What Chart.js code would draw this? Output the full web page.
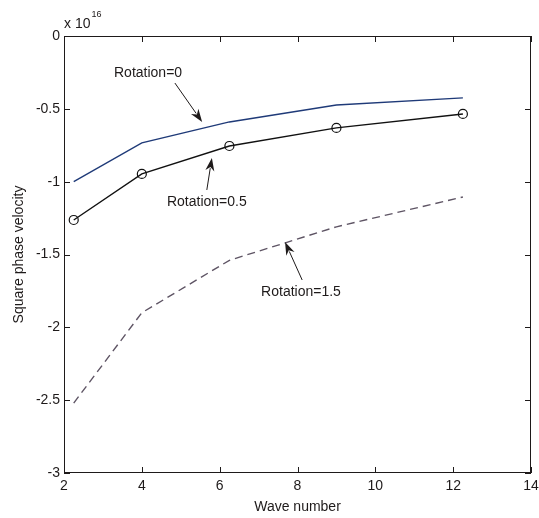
<!DOCTYPE html>
<html><head><meta charset="utf-8">
<script src="https://cdn.jsdelivr.net/npm/chart.js@4/dist/chart.umd.min.js"></script>
<style>html,body{margin:0;padding:0;background:#fff;}#wrap{width:539px;height:518px;}</style>
</head><body><div id="wrap"><canvas id="c" width="539" height="518"></canvas></div>
<script>
// ---- data (values in units of 1e16) ----
const waveNumbers = [2.25, 4, 6.25, 9, 12.25];
const rotation0   = [-1.00, -0.734, -0.59, -0.474, -0.425];
const rotation05  = [-1.263, -0.947, -0.755, -0.631, -0.535];
const rotation15  = [-2.52, -1.90, -1.54, -1.31, -1.105];
const seriesLabels = ['Rotation=0', 'Rotation=0.5', 'Rotation=1.5'];
const xTickValues = [2, 4, 6, 8, 10, 12, 14];
const yTickValues = [0, -0.5, -1, -1.5, -2, -2.5, -3];
const xTitle = 'Wave number';
const yTitle = 'Square phase velocity';
const exponentBase = 'x 10';
const exponentPower = '16';

// annotation anchors in data coordinates: text centre, arrow tail, arrow tip
const annotTextX = [4.16, 5.67, 8.09];
const annotTextY = [-0.254, -1.14, -1.757];
const arrowTailX = [4.85, 5.67, 8.12];
const arrowTailY = [-0.323, -1.057, -1.675];
const arrowTipX  = [5.55, 5.80, 7.68];
const arrowTipY  = [-0.59, -0.837, -1.414];

const FONT = '"Liberation Sans", Arial, Helvetica, sans-serif';
const INK = '#1e1a1a';

const toXY = (ys) => waveNumbers.map((x, i) => ({x, y: ys[i]}));

const framePlugin = {
  id: 'frame',
  afterDatasetsDraw(chart) {
    const {ctx, chartArea: a, scales: {x, y}} = chart;
    ctx.save();
    ctx.strokeStyle = INK;
    ctx.lineWidth = 1;
    ctx.strokeRect(a.left + 0.5, a.top + 0.5, a.right - a.left - 1, a.bottom - a.top - 1);
    const L = 6;
    ctx.beginPath();
    xTickValues.forEach(v => {
      const px = Math.round(x.getPixelForValue(v)) + 0.5;
      ctx.moveTo(px, a.bottom); ctx.lineTo(px, a.bottom - L);
      ctx.moveTo(px, a.top); ctx.lineTo(px, a.top + L);
    });
    yTickValues.forEach(v => {
      const py = Math.round(y.getPixelForValue(v)) + 0.5;
      ctx.moveTo(a.left, py); ctx.lineTo(a.left + L, py);
      ctx.moveTo(a.right, py); ctx.lineTo(a.right - L, py);
    });
    ctx.stroke();

    // exponent label
    ctx.fillStyle = INK;
    ctx.textBaseline = 'alphabetic';
    ctx.textAlign = 'left';
    ctx.font = '14px ' + FONT;
    ctx.fillText(exponentBase, a.left, a.top - 8);
    const w = ctx.measureText(exponentBase).width;
    ctx.font = '9px ' + FONT;
    ctx.fillText(exponentPower, a.left + w + 1, a.top - 19);

    // annotations
    ctx.font = '14px ' + FONT;
    ctx.textAlign = 'center';
    ctx.textBaseline = 'middle';
    seriesLabels.forEach((t, i) => {
      ctx.fillStyle = INK;
      ctx.fillText(t, x.getPixelForValue(annotTextX[i]), y.getPixelForValue(annotTextY[i]));
      const x0 = x.getPixelForValue(arrowTailX[i]), y0 = y.getPixelForValue(arrowTailY[i]);
      const x1 = x.getPixelForValue(arrowTipX[i]), y1 = y.getPixelForValue(arrowTipY[i]);
      const ang = Math.atan2(y1 - y0, x1 - x0);
      const hl = 13, hw = 4.5;
      ctx.strokeStyle = INK; ctx.lineWidth = 1;
      ctx.beginPath(); ctx.moveTo(x0, y0);
      ctx.lineTo(x1 - Math.cos(ang) * hl * 0.8, y1 - Math.sin(ang) * hl * 0.8); ctx.stroke();
      const bx = x1 - Math.cos(ang) * hl, by = y1 - Math.sin(ang) * hl;
      ctx.beginPath();
      ctx.moveTo(x1, y1);
      ctx.lineTo(bx + Math.sin(ang) * hw, by - Math.cos(ang) * hw);
      ctx.lineTo(x1 - Math.cos(ang) * hl * 0.7, y1 - Math.sin(ang) * hl * 0.7);
      ctx.lineTo(bx - Math.sin(ang) * hw, by + Math.cos(ang) * hw);
      ctx.closePath();
      ctx.fillStyle = INK; ctx.fill();
    });
    ctx.restore();
  }
};

new Chart(document.getElementById('c'), {
  type: 'line',
  data: {
    datasets: [
      { label: seriesLabels[0], data: toXY(rotation0), borderColor: '#1f3a78', borderWidth: 1.4,
        pointRadius: 0, tension: 0, fill: false },
      { label: seriesLabels[1], data: toXY(rotation05), borderColor: '#111', borderWidth: 1.4,
        pointRadius: 4.5, pointBorderColor: '#111', pointBackgroundColor: 'rgba(0,0,0,0)',
        pointBorderWidth: 1.2, pointStyle: 'circle', tension: 0, fill: false },
      { label: seriesLabels[2], data: toXY(rotation15), borderColor: '#5e5464', borderWidth: 1.4,
        borderDash: [8, 5], pointRadius: 0, tension: 0, fill: false }
    ]
  },
  options: {
    responsive: false, animation: false, devicePixelRatio: 1,
    layout: { padding: { left: 0, top: 36, right: 8, bottom: 0 } },
    plugins: { legend: { display: false }, tooltip: { enabled: false } },
    scales: {
      x: {
        type: 'linear', min: 2, max: 14,
        afterBuildTicks: s => { s.ticks = xTickValues.map(v => ({value: v})); },
        afterFit: s => { s.height = 45; s.paddingLeft = 0; s.paddingRight = 0; },
        grid: { display: false, drawTicks: false },
        border: { display: false },
        ticks: { color: INK, font: { family: FONT, size: 14 }, padding: 5, maxRotation: 0, autoSkip: false,
                 callback: v => String(v) },
        title: { display: true, text: xTitle, color: INK, font: { family: FONT, size: 14 },
                 padding: { top: 0, bottom: 2 } }
      },
      y: {
        type: 'linear', min: -3, max: 0,
        afterBuildTicks: s => { s.ticks = yTickValues.map(v => ({value: v})); },
        afterFit: s => { s.width = 64; s.paddingTop = 0; s.paddingBottom = 0; },
        grid: { display: false, drawTicks: false },
        border: { display: false },
        ticks: { color: INK, font: { family: FONT, size: 14 }, padding: 4, autoSkip: false,
                 callback: v => String(v) },
        title: { display: true, text: yTitle, color: INK, font: { family: FONT, size: 14 },
                 padding: { top: 11, bottom: 0 } }
      }
    }
  },
  plugins: [framePlugin]
});
</script>
</body></html>
